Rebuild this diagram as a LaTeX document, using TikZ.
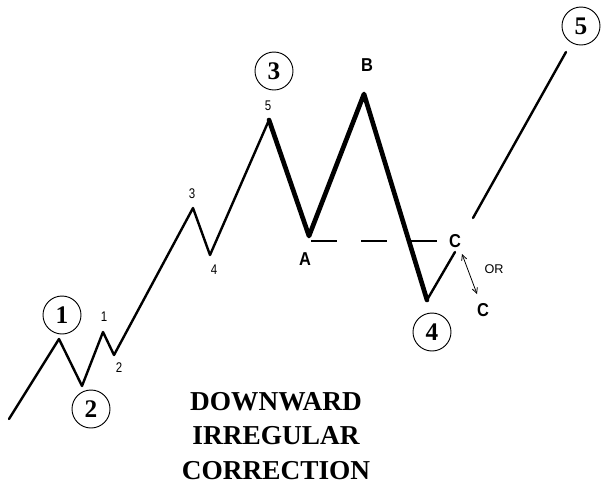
\documentclass[tikz,border=0pt]{standalone}
\usepackage{fontspec}
\setmainfont{Liberation Serif}
\setsansfont{Liberation Sans}
\usetikzlibrary{arrows.meta}
\begin{document}
\begin{tikzpicture}[x=0.75pt,y=-0.75pt,
  thinwave/.style={line width=1.8pt,line join=round,line cap=round},
  thickwave/.style={line width=3.5pt,line join=round,line cap=round},
  wavenum/.style={circle,draw,line width=0.7pt,minimum size=28.5pt,inner sep=0pt,font=\fontsize{19}{20}\selectfont\bfseries},
  subnum/.style={inner sep=0pt,font=\sffamily\fontsize{10.5}{11}\selectfont,xscale=0.82},
  abc/.style={inner sep=0pt,font=\sffamily\bfseries\fontsize{14}{15}\selectfont,xscale=0.88},
  title/.style={align=center,font=\fontsize{20.5}{26}\selectfont\bfseries,inner sep=0pt}]
\useasboundingbox (0,0) rectangle (601,487);
% wave points
\coordinate (s0) at (9,419);
\coordinate (p1) at (59,339);
\coordinate (p2) at (82,386);
\coordinate (q1) at (103,332);
\coordinate (q2) at (114,355);
\coordinate (q3) at (193,208);
\coordinate (q4) at (210,255);
\coordinate (q5) at (269,120);
\coordinate (pA) at (309,236);
\coordinate (pB) at (364,94);
\coordinate (p4) at (427,300);
\coordinate (pC) at (455,252);
\coordinate (r0) at (473,218);
\coordinate (r5) at (566,52);
\coordinate (d0) at (311,241);
\coordinate (d1) at (440,241);
\coordinate (o1) at (462,254);
\coordinate (o2) at (477,294);
% lines
\draw[thinwave] (s0) -- (p1) -- (p2) -- (q1) -- (q2) -- (q3) -- (q4) -- (q5);
\draw[thickwave] (q5) -- (pA) -- (pB) -- (p4);
\draw[thinwave] (p4) -- (pC);
\draw[thinwave] (r0) -- (r5);
\draw[line width=1.6pt,dash pattern=on 19.5pt off 18pt] (d0) -- (d1);
\draw[line width=0.6pt,{Straight Barb[length=4pt,width=4pt]}-{Straight Barb[length=4pt,width=4pt]}] (o1) -- (o2);
% labels
\node[wavenum] (c1) at (62,315) {1};
\node[wavenum] (c2) at (91,409) {2};
\node[wavenum] (c3) at (274,71) {3};
\node[wavenum] (c4) at (432,332) {4};
\node[wavenum] (c5) at (581,26) {5};
\node[subnum] (l1) at (104,317) {1};
\node[subnum] (l2) at (119,368) {2};
\node[subnum] (l3) at (192,194) {3};
\node[subnum] (l4) at (214,270) {4};
\node[subnum] (l5) at (268,106) {5};
\node[abc] (lA) at (305,259) {A};
\node[abc] (lB) at (367,65) {B};
\node[abc] (lC) at (455,241) {C};
\node[abc] (lC2) at (483,310) {C};
\node[inner sep=0pt,font=\sffamily\fontsize{9.5}{10}\selectfont] (lor) at (494,269) {OR};
\node[title] (t) at (276,436) {DOWNWARD\\IRREGULAR\\CORRECTION};
\end{tikzpicture}
\end{document}
